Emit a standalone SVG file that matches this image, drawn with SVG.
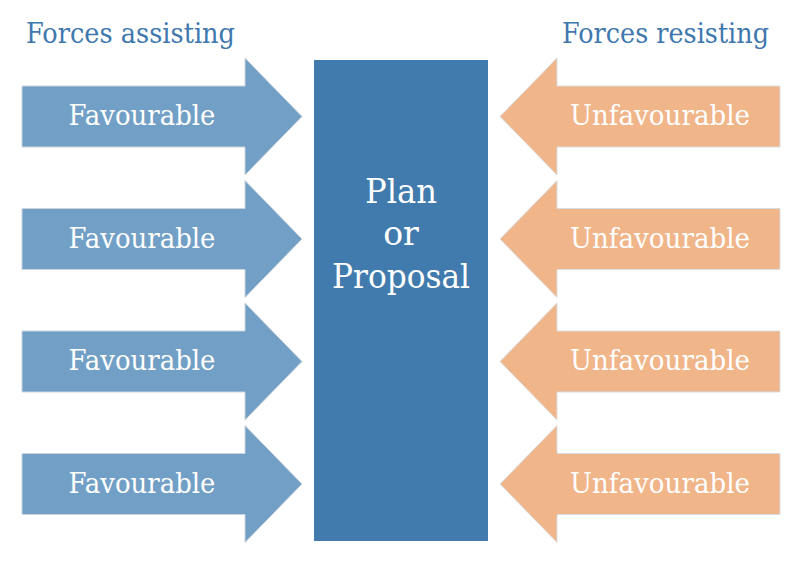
<svg xmlns="http://www.w3.org/2000/svg" width="800" height="563" viewBox="0 0 800 563">
<style>
  .title { font-family: "DejaVu Serif", "Liberation Serif", serif; font-size: 27px; fill: #3F78AE; }
  .lbl { font-family: "DejaVu Serif", "Liberation Serif", serif; font-size: 27.5px; fill: #FFFFFF; text-anchor: middle; }
  .center { font-family: "DejaVu Serif", "Liberation Serif", serif; font-size: 33px; fill: #FFFFFF; text-anchor: middle; }
  .fav { fill: #729FC5; stroke: #C9D4DE; stroke-width: 1; }
  .unfav { fill: #F0B589; stroke: #D9DDE2; stroke-width: 1; }
</style>
<defs>
  <path id="la" d="M22,86 H245 V58 L302,116.5 L245,175 V147 H22 Z"/>
  <path id="ra" d="M780,86 H557 V58 L500,116.5 L557,175 V147 H780 Z"/>
</defs>
<rect width="800" height="563" fill="#FFFFFF"/>
<text class="title" x="26" y="43" textLength="209" lengthAdjust="spacingAndGlyphs">Forces assisting</text>
<text class="title" x="562" y="43" textLength="207" lengthAdjust="spacingAndGlyphs">Forces resisting</text>
<g id="center">
  <rect x="314" y="60" width="174" height="481" fill="#417BAD"/>
  <text class="center" x="401" y="203" textLength="72" lengthAdjust="spacingAndGlyphs">Plan</text>
  <text class="center" x="401" y="245">or</text>
  <text class="center" x="401" y="288" textLength="138" lengthAdjust="spacingAndGlyphs">Proposal</text>
</g>
<g id="connectors">
  <g id="fav1"><use href="#la" class="fav"/><text class="lbl" x="142" y="125" textLength="147" lengthAdjust="spacingAndGlyphs">Favourable</text></g>
  <g id="fav2" transform="translate(0,122.5)"><use href="#la" class="fav"/><text class="lbl" x="142" y="125" textLength="147" lengthAdjust="spacingAndGlyphs">Favourable</text></g>
  <g id="fav3" transform="translate(0,245)"><use href="#la" class="fav"/><text class="lbl" x="142" y="125" textLength="147" lengthAdjust="spacingAndGlyphs">Favourable</text></g>
  <g id="fav4" transform="translate(0,367.5)"><use href="#la" class="fav"/><text class="lbl" x="142" y="125" textLength="147" lengthAdjust="spacingAndGlyphs">Favourable</text></g>
  <g id="unfav1"><use href="#ra" class="unfav"/><text class="lbl" x="660" y="125" textLength="180" lengthAdjust="spacingAndGlyphs">Unfavourable</text></g>
  <g id="unfav2" transform="translate(0,122.5)"><use href="#ra" class="unfav"/><text class="lbl" x="660" y="125" textLength="180" lengthAdjust="spacingAndGlyphs">Unfavourable</text></g>
  <g id="unfav3" transform="translate(0,245)"><use href="#ra" class="unfav"/><text class="lbl" x="660" y="125" textLength="180" lengthAdjust="spacingAndGlyphs">Unfavourable</text></g>
  <g id="unfav4" transform="translate(0,367.5)"><use href="#ra" class="unfav"/><text class="lbl" x="660" y="125" textLength="180" lengthAdjust="spacingAndGlyphs">Unfavourable</text></g>
</g>
</svg>
